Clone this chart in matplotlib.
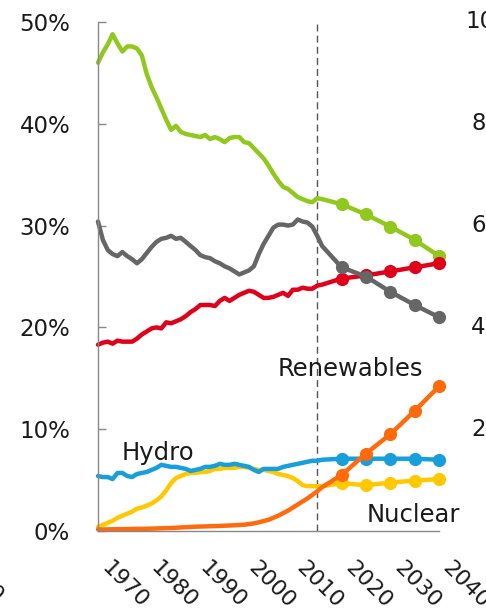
import numpy as np
from matplotlib import pyplot as plt

# Годы: история и прогноз
hist_years = list(range(1970, 2017))
proj_years = [2020, 2025, 2030, 2035, 2040]

# Доли в первичной энергии, %
oil_hist = [46.0, 47.0, 47.8, 48.8, 47.9, 47.1, 47.6, 47.6, 47.4, 46.7,
            44.9, 43.6, 42.6, 41.5, 40.4, 39.4, 39.8, 39.2, 39.0, 38.9,
            38.8, 38.7, 38.9, 38.5, 38.7, 38.5, 38.2, 38.6, 38.7, 38.7,
            38.2, 38.1, 37.6, 37.1, 36.6, 35.9, 35.1, 34.4, 33.8, 33.6,
            33.2, 32.8, 32.6, 32.4, 32.3, 32.7, 32.6]
oil_proj = [32.1, 31.1, 29.9, 28.6, 27.0]

coal_hist = [30.4, 28.6, 27.6, 27.2, 27.0, 27.4, 27.0, 26.7, 26.3, 26.7,
             27.3, 27.9, 28.4, 28.7, 28.8, 29.0, 28.7, 28.8, 28.4, 28.0,
             27.6, 27.1, 26.9, 26.8, 26.5, 26.3, 26.0, 25.8, 25.5, 25.2,
             25.4, 25.6, 26.0, 27.2, 28.2, 29.0, 29.8, 30.1, 30.1, 30.0,
             30.1, 30.6, 30.4, 30.3, 29.9, 29.0, 28.0]
coal_proj = [25.9, 25.0, 23.5, 22.2, 21.0]

gas_hist = [18.3, 18.5, 18.6, 18.4, 18.7, 18.6, 18.6, 18.6, 18.9, 19.3,
            19.6, 19.9, 20.0, 19.9, 20.5, 20.4, 20.6, 20.8, 21.1, 21.5,
            21.8, 22.2, 22.2, 22.2, 22.1, 22.6, 22.9, 22.6, 22.9, 23.2,
            23.4, 23.6, 23.5, 23.2, 22.9, 22.9, 23.0, 23.2, 23.4, 23.1,
            23.7, 23.7, 23.9, 23.8, 23.8, 24.1, 24.2]
gas_proj = [24.8, 25.1, 25.5, 25.9, 26.3]

hydro_hist = [5.4, 5.3, 5.3, 5.1, 5.7, 5.7, 5.4, 5.3, 5.6, 5.7,
              5.8, 6.0, 6.2, 6.5, 6.4, 6.3, 6.3, 6.2, 6.1, 5.9,
              6.0, 6.1, 6.3, 6.3, 6.4, 6.6, 6.5, 6.5, 6.6, 6.5,
              6.4, 6.3, 6.0, 5.8, 6.1, 6.1, 6.1, 6.1, 6.3, 6.4,
              6.5, 6.6, 6.7, 6.8, 6.9, 6.9, 7.0]
hydro_proj = [7.1, 7.1, 7.1, 7.1, 7.0]

nuclear_hist = [0.4, 0.6, 0.8, 1.0, 1.3, 1.5, 1.7, 1.9, 2.2, 2.3,
                2.5, 2.7, 3.0, 3.4, 4.0, 4.7, 5.2, 5.4, 5.6, 5.7,
                5.7, 5.8, 5.8, 5.9, 6.1, 6.1, 6.2, 6.2, 6.2, 6.3,
                6.3, 6.2, 6.1, 6.0, 6.0, 5.9, 5.8, 5.6, 5.5, 5.4,
                5.2, 4.9, 4.5, 4.4, 4.4, 4.4, 4.4]
nuclear_proj = [4.7, 4.5, 4.75, 4.95, 5.1]

renew_hist = [0.15, 0.15, 0.16, 0.17, 0.18, 0.18, 0.19, 0.2, 0.21, 0.21,
              0.22, 0.23, 0.25, 0.27, 0.28, 0.3, 0.32, 0.35, 0.37, 0.4,
              0.42, 0.44, 0.45, 0.47, 0.48, 0.5, 0.52, 0.54, 0.56, 0.59,
              0.62, 0.68, 0.75, 0.85, 0.98, 1.1, 1.3, 1.5, 1.75, 2.0,
              2.3, 2.6, 2.9, 3.2, 3.55, 3.9, 4.3]
renew_proj = [5.5, 7.6, 9.5, 11.8, 14.2]

# Порядок отрисовки: снизу вверх
series = [
    (nuclear_hist, nuclear_proj, "#ffc800"),
    (hydro_hist, hydro_proj, "#169fdb"),
    (renew_hist, renew_proj, "#ff6a0d"),
    (oil_hist, oil_proj, "#90c81e"),
    (gas_hist, gas_proj, "#e0001a"),
    (coal_hist, coal_proj, "#666666"),
]

y_ticks = [0, 10, 20, 30, 40, 50]
x_ticks = [1970, 1980, 1990, 2000, 2010, 2020, 2030, 2040]
text_color = "#1a1a1a"

fig = plt.figure(figsize=(4.86, 6.13), dpi=100)
ax = fig.add_axes([98 / 486, 1 - 531 / 613, 341 / 486, 509 / 613])

for hist, proj, color in series:
    ax.plot(hist_years + proj_years, hist + proj, color=color, lw=3.2,
            solid_capstyle="round", solid_joinstyle="round", clip_on=False)
    ax.plot(proj_years, proj, "o", color=color, ms=9.5, mec="none", clip_on=False)

# Граница истории и прогноза
ax.axvline(2015, color="#555555", lw=1, linestyle=(0, (5, 3)), zorder=0)

ax.set_xlim(1970, 2040)
ax.set_ylim(0, 50)
ax.set_yticks(y_ticks)
ax.set_yticklabels([f"{v}%" for v in y_ticks])
ax.set_xticks(x_ticks)
ax.set_xticklabels([str(v) for v in x_ticks], rotation=-45, ha="left", va="top")

for side in ["top", "right"]:
    ax.spines[side].set_visible(False)
for side in ["left", "bottom"]:
    ax.spines[side].set_color("#888888")
    ax.spines[side].set_linewidth(1.0)

ax.tick_params(axis="y", direction="in", length=6, width=1, color="#888888",
               pad=20, labelsize=16.5, labelcolor=text_color)
ax.tick_params(axis="x", length=0, pad=19, labelsize=16, labelcolor=text_color)

# Подписи серий
ax.text(1974.9, 7.0, "Hydro", fontsize=17.5, color=text_color, ha="left", va="baseline")
ax.text(2006.9, 15.2, "Renewables", fontsize=17.5, color=text_color, ha="left", va="baseline")
ax.text(2025.1, 0.9, "Nuclear", fontsize=17.5, color=text_color, ha="left", va="baseline",
        clip_on=False)

# Обрезанные подписи соседних графиков
for lbl, xpx, ypx in [("100%", 465, 22), ("80%", 471, 123), ("60%", 471, 225),
                      ("40%", 471, 327), ("20%", 471, 429)]:
    fig.text(xpx / 486, 1 - ypx / 613, lbl, fontsize=16.5, color=text_color,
             ha="left", va="center")
fig.text(-47 / 486, 1 - 553 / 613, "2040", fontsize=16, color=text_color,
         rotation=-45, ha="left", va="top")

fig.savefig("out.png", dpi=100)
